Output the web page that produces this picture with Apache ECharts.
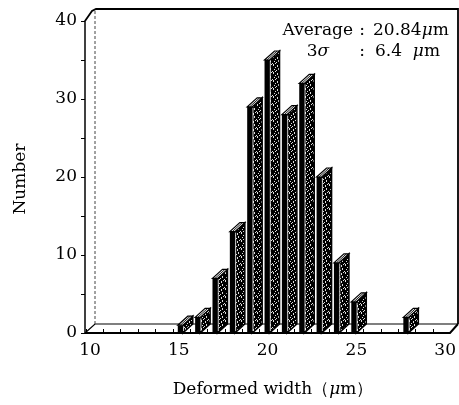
<!DOCTYPE html>
<html><head><meta charset="utf-8">
<script src="https://cdn.jsdelivr.net/npm/echarts@6/dist/echarts.min.js"></script>
<style>html,body{margin:0;padding:0;background:#fff}#c{width:459px;height:405px}</style>
</head><body><div id="c"></div>
<script>
// ---- data ----
const binStarts = [15, 16, 17, 18, 19, 20, 21, 22, 23, 24, 25, 28];
const counts    = [1, 2, 7, 13, 29, 35, 28, 32, 20, 9, 4, 2];
const xRange = [10, 30];
const yRange = [0, 40];
const statLabels = ['Average', '3{i|σ}'];
const statValues = ['20.84{i|μ}m', '6.4  {i|μ}m'];
const xName = 'Deformed width（{i|μ}m）';
const yName = 'Number';

const FONT = '"DejaVu Serif", "Liberation Serif", serif';

// speckle texture for the bar side faces (deterministic)
const pat = document.createElement('canvas');
pat.width = 8; pat.height = 8;
const pc = pat.getContext('2d');
pc.fillStyle = '#000'; pc.fillRect(0, 0, 8, 8);
pc.fillStyle = '#ddd';
[[1,0],[1,1],[5,2],[3,3],[6,4],[6,5],[2,5],[4,6],[0,7],[7,0],[3,7],[5,1]].forEach(p => pc.fillRect(p[0], p[1], 1, 1));
const speckle = { image: pat, repeat: 'repeat' };

const DX = 10, DY = 9; // oblique depth

const chart = echarts.init(document.getElementById('c'), null, { renderer: 'canvas' });

const option = {
  animation: false,
  backgroundColor: '#fff',
  grid: [
    { left: 86, right: 26, top: 21, bottom: 72 },
    { left: 90, right: 12, top: 21, bottom: 72 }
  ],
  xAxis: [
    { gridIndex: 0, type: 'value', min: xRange[0], max: xRange[1], interval: 5,
      axisLine: { show: false }, axisLabel: { show: false },
      axisTick: { show: true, inside: true, length: 4, lineStyle: { color: '#000', width: 1 } },
      minorTick: { show: true, splitNumber: 5, length: 4, lineStyle: { color: '#000', width: 1 } },
      splitLine: { show: false } },
    { gridIndex: 1, type: 'value', min: xRange[0], max: xRange[1], interval: 5,
      axisLine: { show: false }, axisTick: { show: false }, splitLine: { show: false },
      axisLabel: { color: '#000', fontFamily: FONT, fontSize: 17, margin: 9 } }
  ],
  yAxis: [
    { gridIndex: 0, type: 'value', min: yRange[0], max: yRange[1], interval: 10, offset: 1,
      axisLine: { show: true, lineStyle: { color: '#000', width: 1.5 } },
      axisTick: { show: true, inside: false, length: 4, lineStyle: { color: '#000', width: 1 } },
      minorTick: { show: true, splitNumber: 2, length: 4, lineStyle: { color: '#000', width: 1 } },
      splitLine: { show: false },
      axisLabel: { color: '#000', fontFamily: FONT, fontSize: 17, margin: 8 } },
    { gridIndex: 1, type: 'value', min: yRange[0], max: yRange[1], show: false }
  ],
  series: [{
    type: 'custom',
    xAxisIndex: 0, yAxisIndex: 0,
    z: 5,
    data: binStarts.map((x, i) => [x, counts[i]]),
    renderItem: function (params, api) {
      const x = api.value(0), h = api.value(1);
      const b = api.coord([x, 0]);
      const t = api.coord([x, h]);
      const u = api.size([1, 0])[0];
      const fx0 = b[0] + 0.29 * u;
      const fw = 5;
      const fx1 = fx0 + fw;
      const yb = b[1], yt = t[1];
      return {
        type: 'group',
        children: [
          { type: 'polygon', shape: { points: [[fx1, yb], [fx1, yt], [fx1 + DX, yt - DY], [fx1 + DX, yb - DY]] },
            style: { fill: speckle, stroke: '#000', lineWidth: 1.5 } },
          { type: 'rect', shape: { x: fx0, y: yt, width: fw, height: yb - yt },
            style: { fill: '#000' } },
          { type: 'line', shape: { x1: fx1 + 0.8, y1: yt + 1, x2: fx1 + 0.8, y2: yb - 2 },
            style: { stroke: '#fff', lineWidth: 0.8 } },
          { type: 'polygon', shape: { points: [[fx0, yt], [fx1, yt], [fx1 + DX, yt - DY], [fx0 + DX, yt - DY]] },
            style: { fill: '#fff', stroke: '#000', lineWidth: 1.2 } },
          { type: 'line', shape: { x1: fx0 + 2.5, y1: yt, x2: fx0 + 2.5 + DX, y2: yt - DY },
            style: { stroke: '#000', lineWidth: 0.9 } }
        ]
      };
    }
  }]
};
chart.setOption(option);

// frame decoration computed from the grid
const p0 = chart.convertToPixel({ gridIndex: 0 }, [xRange[0], yRange[0]]);
const p1 = chart.convertToPixel({ gridIndex: 0 }, [xRange[1], yRange[1]]);
const xl = p0[0] - 1, yb = p0[1], yt = p1[1];
const xr = 450, xrBack = 458;
const lineStyle = (w) => ({ stroke: '#000', lineWidth: w, fill: null });
const rich = { i: { fontStyle: 'italic', fontFamily: FONT, fontSize: 17, fill: '#000' } };

chart.setOption({
  graphic: [
    { type: 'polyline', z: 1, shape: { points: [[xl, yb], [xr, yb], [xrBack, yb - DY]] }, style: lineStyle(2) },
    { type: 'polyline', z: 1, shape: { points: [[xl, yb], [xl + DX, yb - DY], [xrBack, yb - DY]] }, style: lineStyle(1.2) },
    { type: 'polyline', z: 1, shape: { points: [[xl, yt], [xl + 7, yt - 10], [xl + 11, yt - 12], [xrBack, yt - 12], [xrBack, yb - DY]] }, style: lineStyle(1.8) },
    { type: 'line', z: 1, shape: { x1: xl + DX, y1: yt - 10, x2: xl + DX, y2: yb - DY }, style: { stroke: '#444', lineWidth: 1, lineDash: [3, 2] } },
    // stats text
    { type: 'text', z: 10, style: { text: statLabels[0], x: 353, y: 31, textAlign: 'right', textVerticalAlign: 'middle', font: '17px ' + FONT, fill: '#000', rich } },
    { type: 'text', z: 10, style: { text: ':', x: 362, y: 31, textAlign: 'center', textVerticalAlign: 'middle', font: '17px ' + FONT, fill: '#000' } },
    { type: 'text', z: 10, style: { text: statValues[0], x: 373, y: 31, textAlign: 'left', textVerticalAlign: 'middle', font: '17px ' + FONT, fill: '#000', rich } },
    { type: 'text', z: 10, style: { text: statLabels[1], x: 318, y: 52, textAlign: 'center', textVerticalAlign: 'middle', font: '17px ' + FONT, fill: '#000', rich } },
    { type: 'text', z: 10, style: { text: ':', x: 362, y: 52, textAlign: 'center', textVerticalAlign: 'middle', font: '17px ' + FONT, fill: '#000' } },
    { type: 'text', z: 10, style: { text: statValues[1], x: 375, y: 52, textAlign: 'left', textVerticalAlign: 'middle', font: '17px ' + FONT, fill: '#000', rich } },
    // axis names
    { type: 'text', z: 10, style: { text: xName, x: 273, y: 390, textAlign: 'center', textVerticalAlign: 'middle', font: '17px ' + FONT, fill: '#000', rich } },
    { type: 'text', z: 10, x: 21, y: 179, rotation: Math.PI / 2, style: { text: yName, x: 0, y: 0, textAlign: 'center', textVerticalAlign: 'middle', font: '17px ' + FONT, fill: '#000' } }
  ]
});
</script>
</body></html>
